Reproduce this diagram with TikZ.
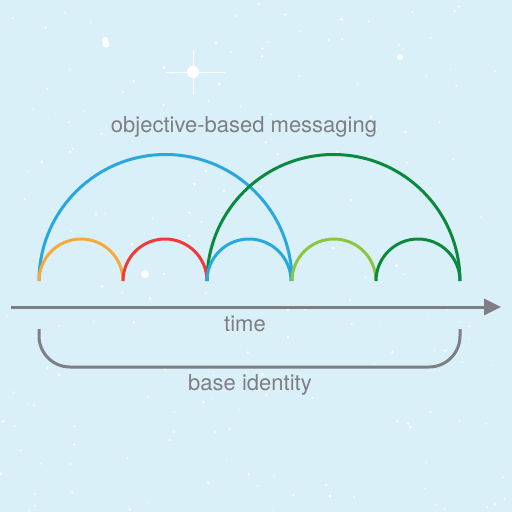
\documentclass[tikz,border=0pt]{standalone}
\usepackage{fontspec}
\setmainfont{TeX Gyre Heros}
\usetikzlibrary{arrows.meta}

\definecolor{sky}{HTML}{DAF0F8}
\definecolor{ink}{HTML}{7E7E83}
\definecolor{arcblue}{HTML}{29A8E0}
\definecolor{arcorange}{HTML}{F7A93B}
\definecolor{arcred}{HTML}{EE3A3A}
\definecolor{arclime}{HTML}{8CC63F}
\definecolor{arcgreen}{HTML}{0B8A3F}

\begin{document}
\begin{tikzpicture}[x=1pt, y=-1pt, line width=3pt,
    label/.style={text=ink, font=\fontsize{22}{24}\selectfont, inner sep=0pt},
    small/.style={radius=42, start angle=180, end angle=360},
    big/.style={radius=126.5, start angle=180, end angle=360}]
    % Background
    \fill[sky] (0,0) rectangle (512,512);
    \useasboundingbox (0,0) rectangle (512,512);

    % Speckles
    \pgfmathsetseed{42}
    \foreach \i in {1,...,200}
        \fill[white] (rnd*512, rnd*512) circle[radius=0.4+rnd*1.2];
    \fill[white] (105,40) circle[radius=3];
    \fill[white] (106,44) circle[radius=3.5];
    \fill[white] (400,57) circle[radius=3];
    \fill[white] (193,72) circle[radius=6];
    \draw[white, line width=0.8pt] (166,72) -- (225,72);
    \draw[white, line width=0.6pt] (193,50) -- (193,95);
    \fill[white] (145,274) circle[radius=4];

    % Time points
    \coordinate (p0) at (39,281);
    \coordinate (p1) at (123,281);
    \coordinate (p2) at (207,281);
    \coordinate (p3) at (292,281);
    \coordinate (p4) at (376,281);
    \coordinate (p5) at (460,281);

    % Large arcs
    \draw[arcblue] (p0) arc[big];
    \draw[arcgreen] (p2) arc[big];

    % Small arcs
    \draw[arcorange] (p0) arc[small];
    \draw[arcred] (p1) arc[small];
    \draw[arcblue] (p2) arc[small];
    \draw[arclime] (p3) arc[small];
    \draw[arcgreen] (p4) arc[small];

    % Time axis
    \coordinate (tstart) at (11,307);
    \coordinate (tend) at (501,307);
    \draw[ink, -{Triangle[length=17pt, width=16pt]}] (tstart) -- (tend);

    % Base bracket
    \coordinate (b0) at (39,329);
    \coordinate (b1) at (460,329);
    \draw[ink, rounded corners=31pt] (b0) -- (39,367) -- (460,367) -- (b1);

    % Labels
    \node (msg) [label] at (244,127) {objective-based messaging};
    \node (time) [label] at (245,324) {time};
    \node (base) [label] at (250,385) {base identity};
\end{tikzpicture}
\end{document}
